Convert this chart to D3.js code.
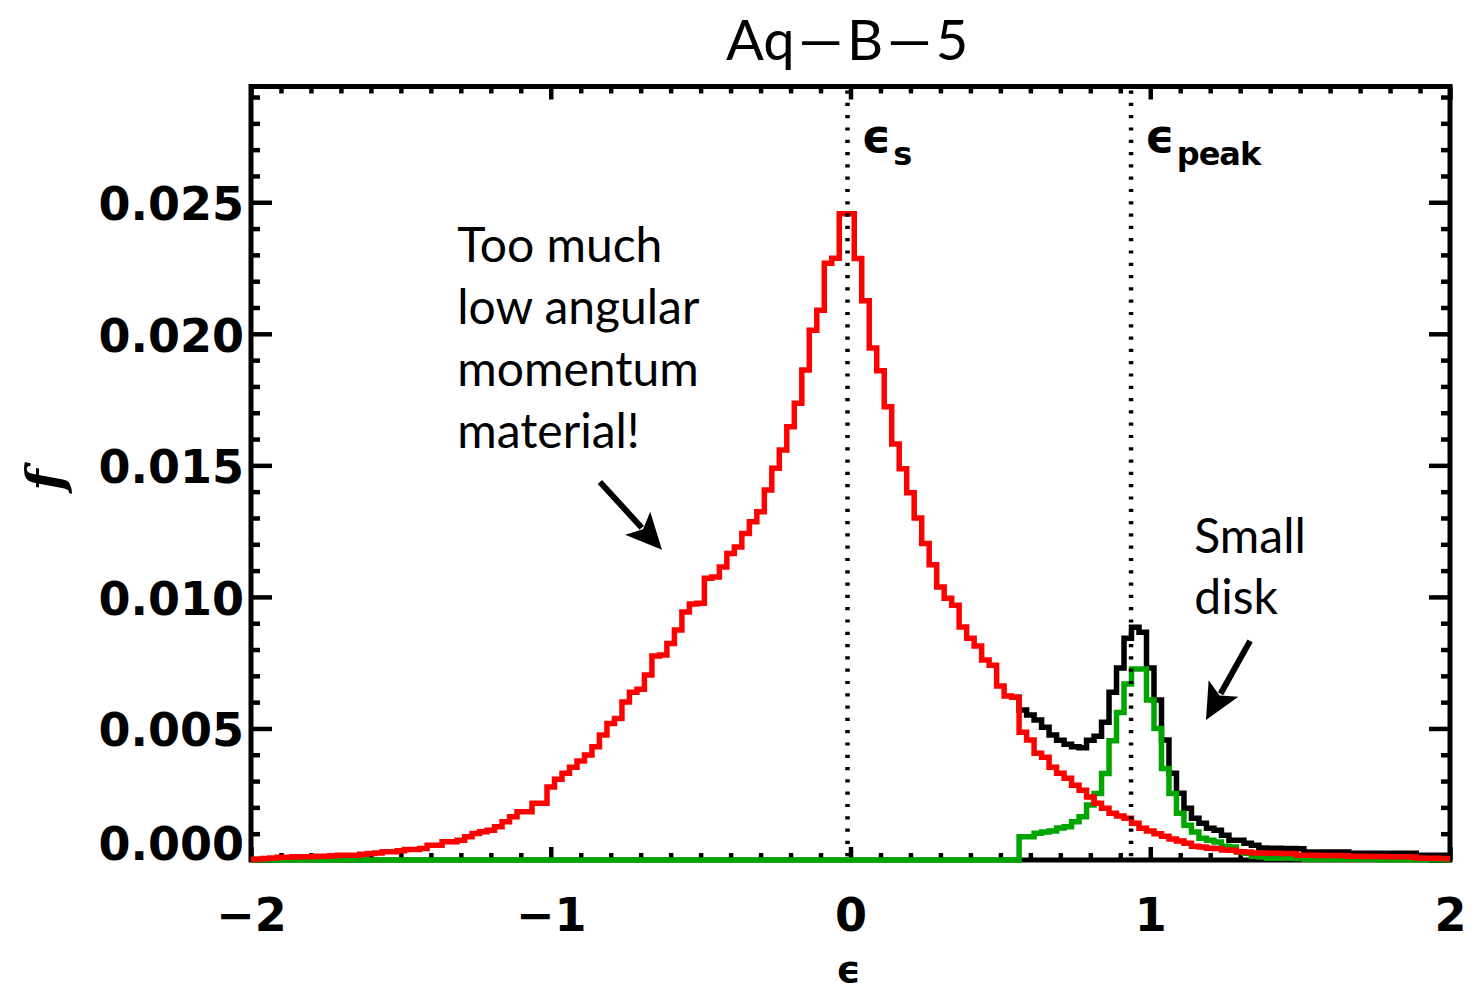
<!DOCTYPE html>
<html>
<head>
<meta charset="utf-8">
<script src="https://cdn.jsdelivr.net/npm/d3@7"></script>
<style>
  html, body { margin: 0; padding: 0; background: #fff; }
  svg { display: block; }
</style>
</head>
<body>
<svg id="chart" width="1484" height="994"></svg>
<script>
// ---------------- DATA ----------------
// histogram bins: eps = -2 + 0.025*i, i = 0..160
const binStart = -2, binWidth = 0.025, nBins = 161;

// red: spheroid / non-disk component (all bins)
const fRed = [
  0.00002,0.00004,0.00006,0.00008,0.00010,0.00010,0.00012,0.00012,0.00012,0.00014,
  0.00014,0.00016,0.00018,0.00018,0.00018,0.00022,0.00025,0.00027,0.00031,0.00031,
  0.00035,0.00040,0.00040,0.00044,0.00056,0.00056,0.00069,0.00069,0.00075,0.00088,
  0.00101,0.00107,0.00113,0.00126,0.00145,0.00164,0.00183,0.00183,0.00216,0.00216,
  0.00277,0.00307,0.00330,0.00353,0.00376,0.00399,0.00430,0.00475,0.00519,0.00538,
  0.00601,0.00638,0.00649,0.00703,0.00775,0.00779,0.00823,0.00874,0.00943,0.00973,
  0.00976,0.01071,0.01076,0.01114,0.01165,0.01190,0.01241,0.01286,0.01324,0.01406,
  0.01489,0.01558,0.01647,0.01736,0.01862,0.02014,0.02090,0.02268,0.02287,0.02456,
  0.02456,0.02286,0.02126,0.01946,0.01860,0.01723,0.01581,0.01487,0.01396,0.01300,
  0.01203,0.01122,0.01038,0.00995,0.00968,0.00886,0.00843,0.00813,0.00760,0.00740,
  0.00661,0.00623,0.00619,0.00486,0.00456,0.00406,0.00391,0.00353,0.00330,0.00311,
  0.00284,0.00265,0.00239,0.00216,0.00197,0.00178,0.00167,0.00159,0.00140,0.00121,
  0.00110,0.00100,0.00090,0.00080,0.00072,0.00064,0.00052,0.00049,0.00045,0.00044,
  0.00038,0.00037,0.00031,0.00030,0.00027,0.00027,0.00026,0.00026,0.00025,0.00025,
  0.00018,0.00018,0.00018,0.00017,0.00017,0.00017,0.00016,0.00014,0.00014,0.00013,
  0.00013,0.00013,0.00012,0.00012,0.00012,0.00011,0.00008,0.00007,0.00007,0.00006,
  0.00006
];

// green: disk component, bins from eps = 0.575 upward (zero below)
const greenStart = 0.575;
const fGreen = [
  0.00088,0.00088,0.00102,0.00106,0.00110,0.00122,0.00126,0.00145,0.00164,0.00209,
  0.00253,0.00329,0.00453,0.00561,0.00669,0.00726,0.00726,0.00608,0.00500,0.00348,
  0.00253,0.00178,0.00132,0.00106,0.00083,0.00075,0.00068,0.00052,0.00049,0.00030,
  0.00026,0.00014,0.00011,0.00007,0.00007,0.00007,0.00007,0.00007,0.00003,0.00003,
  0.00003,0.00003,0.00003,0.00003,0.00003,0.00003,0.00003,0.00003,0.00001,0.00001,
  0.00001,0.00001,0.00001,0.00001,0.00001,0.00001,0.00001,0.00001
];

// black: total, bins from eps = 0.55 upward (identical to red below)
const blackStart = 0.55;
const fBlack = [
  0.00619,0.00570,0.00551,0.00532,0.00505,0.00475,0.00455,0.00440,0.00430,0.00427,
  0.00455,0.00470,0.00524,0.00638,0.00730,0.00843,0.00885,0.00866,0.00730,0.00608,
  0.00456,0.00330,0.00254,0.00197,0.00159,0.00140,0.00121,0.00113,0.00094,0.00075,
  0.00075,0.00064,0.00056,0.00046,0.00045,0.00045,0.00044,0.00044,0.00043,0.00030,
  0.00030,0.00030,0.00030,0.00030,0.00030,0.00026,0.00026,0.00026,0.00026,0.00026,
  0.00026,0.00026,0.00026,0.00026,0.00018,0.00018,0.00018,0.00018,0.00018
];

const xTicksMajor = [-2, -1, 0, 1, 2];
const yTicksMajor = [0, 0.005, 0.010, 0.015, 0.020, 0.025];
const epsS = -0.01, epsPeak = 0.936;
const titleParts = ["Aq", "\u2014", "B", "\u2014", "5"];
const noteLeft = ["Too much", "low angular", "momentum", "material!"];
const noteRight = ["Small", "disk"];

// ---------------- BUILD ----------------
const svg = d3.select("#chart");
const L = 251, R = 1450, T = 86.5, B = 860;
const x = d3.scaleLinear().domain([-2, 2]).range([L, R]);
const y = d3.scaleLinear().domain([0, 0.0294]).range([B, T]);

const redData = fRed.map((f, i) => ({e: binStart + binWidth * i, f}));
const gStartIdx = Math.round((greenStart - binStart) / binWidth);
const greenData = d3.range(nBins).map(i => ({
  e: binStart + binWidth * i,
  f: i < gStartIdx ? 0 : (fGreen[i - gStartIdx] ?? 0)
}));
const blackData = fBlack.map((f, i) => ({e: blackStart + binWidth * i, f}));

const tickW = 4.5;
function styleAxis(g) {
  g.select(".domain").remove();
  g.selectAll(".tick line").attr("stroke", "#000").attr("stroke-width", tickW);
}

const xMinor = d3.range(-20, 21).map(v => v / 10).filter(v => !xTicksMajor.some(m => Math.abs(m - v) < 1e-9));
const yMinor = d3.range(0, 30).map(v => v / 1000).filter(v => v <= 0.0294 && !yTicksMajor.some(m => Math.abs(m - v) < 1e-9));

// minor ticks
svg.append("g").attr("transform", `translate(0,${B})`)
  .call(d3.axisBottom(x).tickValues(xMinor).tickSize(-7).tickFormat("")).call(styleAxis);
svg.append("g").attr("transform", `translate(0,${T})`)
  .call(d3.axisTop(x).tickValues(xMinor).tickSize(-7).tickFormat("")).call(styleAxis);
svg.append("g").attr("transform", `translate(${L},0)`)
  .call(d3.axisLeft(y).tickValues(yMinor).tickSize(-9).tickFormat("")).call(styleAxis);
svg.append("g").attr("transform", `translate(${R},0)`)
  .call(d3.axisRight(y).tickValues(yMinor).tickSize(-9).tickFormat("")).call(styleAxis);

// major ticks with labels
const labelFont = "'DejaVu Sans', sans-serif";
const gxb = svg.append("g").attr("transform", `translate(0,${B})`)
  .call(d3.axisBottom(x).tickValues(xTicksMajor).tickSize(-13).tickPadding(38)
    .tickFormat(d3.format("d"))).call(styleAxis);
gxb.selectAll("text").attr("font-family", labelFont).attr("font-weight", "bold")
  .attr("font-size", 46).attr("fill", "#000");
svg.append("g").attr("transform", `translate(0,${T})`)
  .call(d3.axisTop(x).tickValues(xTicksMajor).tickSize(-13).tickFormat("")).call(styleAxis);
const gyl = svg.append("g").attr("transform", `translate(${L},0)`)
  .call(d3.axisLeft(y).tickValues(yTicksMajor).tickSize(-21).tickPadding(7)
    .tickFormat(d3.format(".3f"))).call(styleAxis);
gyl.selectAll("text").attr("font-family", labelFont).attr("font-weight", "bold")
  .attr("font-size", 46).attr("fill", "#000")
  .attr("dy", d => d === 0 ? "-0.02em" : "0.38em");
svg.append("g").attr("transform", `translate(${R},0)`)
  .call(d3.axisRight(y).tickValues(yTicksMajor).tickSize(-21).tickFormat("")).call(styleAxis);

// frame
svg.append("rect").attr("x", L).attr("y", T).attr("width", R - L).attr("height", B - T)
  .attr("fill", "none").attr("stroke", "#000").attr("stroke-width", 5);

// histograms
const line = d3.line().curve(d3.curveStep).x(d => x(d.e)).y(d => y(d.f));
const lw = 5.5;
svg.append("path").datum(blackData).attr("d", line).attr("fill", "none")
  .attr("stroke", "#000").attr("stroke-width", lw).attr("stroke-linejoin", "miter");
svg.append("path").datum(greenData).attr("d", line).attr("fill", "none")
  .attr("stroke", "#00a500").attr("stroke-width", lw).attr("stroke-linejoin", "miter");
svg.append("path").datum(redData).attr("d", line).attr("fill", "none")
  .attr("stroke", "#ff0000").attr("stroke-width", lw).attr("stroke-linejoin", "miter");

// dotted vertical markers
[epsS, epsPeak].forEach(e => {
  svg.append("line").attr("x1", x(e)).attr("x2", x(e)).attr("y1", T + 4).attr("y2", B)
    .attr("stroke", "#000").attr("stroke-width", 4.5).attr("stroke-dasharray", "3.2,9.1");
});

// marker labels
function epsLabel(e, sub, yVal) {
  const t = svg.append("text").attr("x", x(e) + 14).attr("y", y(yVal))
    .attr("font-family", labelFont).attr("font-weight", "bold").attr("font-size", 46).attr("fill", "#000");
  t.append("tspan").text("\u03F5");
  t.append("tspan").attr("dy", 13).attr("dx", 2).attr("font-size", 32).attr("letter-spacing", -1).text(sub);
}
epsLabel(epsS, "s", 0.02692);
epsLabel(epsPeak, "peak", 0.02692);

// title
const tt = svg.append("text").attr("x", 847).attr("y", 60).attr("text-anchor", "middle")
  .attr("font-family", "Lato, sans-serif").attr("font-size", 56).attr("fill", "#000");
titleParts.forEach((s, i) => tt.append("tspan").attr("dx", i ? 4 : 0).text(s));

// axis titles
svg.append("text").attr("x", x(0) - 2).attr("y", 982).attr("text-anchor", "middle")
  .attr("font-family", labelFont).attr("font-weight", "bold").attr("font-size", 38)
  .attr("fill", "#000").text("\u03F5");
svg.append("text").attr("transform", "translate(62,480) rotate(-90)").attr("text-anchor", "middle")
  .attr("font-family", "'DejaVu Serif', serif").attr("font-style", "italic").attr("font-weight", "bold")
  .attr("font-size", 50).attr("fill", "#000").text("f");

// annotations
const noteFont = "Lato, sans-serif";
const nl = svg.append("text").attr("font-family", noteFont).attr("font-size", 48).attr("fill", "#000");
noteLeft.forEach((s, i) => nl.append("tspan").attr("x", x(-1.312)).attr("y", y(0.02274) + i * 62).text(s));
const nr = svg.append("text").attr("font-family", noteFont).attr("font-size", 48).attr("fill", "#000");
noteRight.forEach((s, i) => nr.append("tspan").attr("x", x(1.147)).attr("y", y(0.01167) + i * 61).text(s));

// arrows
function arrow(e0, f0, e1, f1) {
  const x0 = x(e0), y0 = y(f0), x1 = x(e1), y1 = y(f1);
  const ang = Math.atan2(y1 - y0, x1 - x0);
  const hl = 36, hw = 17;
  const bx = x1 - hl * Math.cos(ang), by = y1 - hl * Math.sin(ang);
  svg.append("line").attr("x1", x0).attr("y1", y0).attr("x2", bx + 6 * Math.cos(ang)).attr("y2", by + 6 * Math.sin(ang))
    .attr("stroke", "#000").attr("stroke-width", 6);
  const px = -Math.sin(ang), py = Math.cos(ang);
  svg.append("path").attr("d", `M${x1},${y1}L${bx + hw * px},${by + hw * py}L${bx + 8 * Math.cos(ang)},${by + 8 * Math.sin(ang)}L${bx - hw * px},${by - hw * py}Z`)
    .attr("fill", "#000");
}
arrow(-0.836, 0.01437, -0.629, 0.01179);
arrow(1.333, 0.00833, 1.186, 0.00532);
</script>
</body>
</html>
